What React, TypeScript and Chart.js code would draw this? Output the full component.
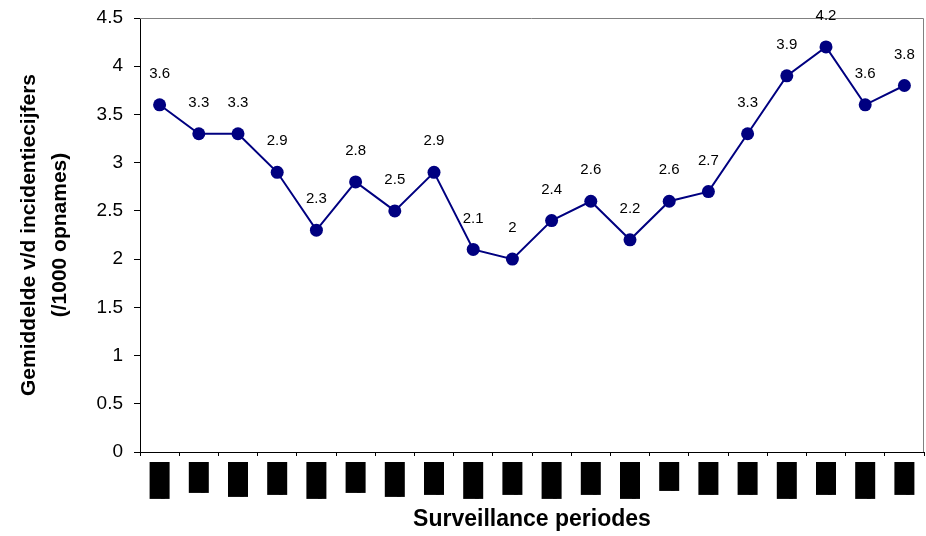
import React, { useEffect, useRef } from "react";
import { Chart, registerables } from "chart.js";

Chart.register(...registerables);

// Redacted period labels (black bars in the source)
const periodLabels: string[] = [
  "██████████████████",
  "███████████████",
  "█████████████████",
  "████████████████",
  "██████████████████",
  "███████████████",
  "█████████████████",
  "████████████████",
  "██████████████████",
  "████████████████",
  "██████████████████",
  "████████████████",
  "██████████████████",
  "██████████████",
  "████████████████",
  "████████████████",
  "██████████████████",
  "████████████████",
  "██████████████████",
  "████████████████",
];

const incidenceValues: number[] = [
  3.6, 3.3, 3.3, 2.9, 2.3, 2.8, 2.5, 2.9, 2.1, 2.0,
  2.4, 2.6, 2.2, 2.6, 2.7, 3.3, 3.9, 4.2, 3.6, 3.8,
];

const yAxisTitle: string[] = ["Gemiddelde v/d incidentiecijfers", "(/1000 opnames)"];
const xAxisTitle = "Surveillance periodes";

const NAVY = "#000080";
const FONT = "'Liberation Sans', Arial, sans-serif";

const frameBorder = {
  id: "frameBorder",
  beforeDatasetsDraw(chart: any) {
    const { ctx, chartArea } = chart;
    ctx.save();
    ctx.strokeStyle = "#808080";
    ctx.lineWidth = 1;
    ctx.beginPath();
    ctx.moveTo(chartArea.left, chartArea.top + 0.5);
    ctx.lineTo(chartArea.right - 0.5, chartArea.top + 0.5);
    ctx.lineTo(chartArea.right - 0.5, chartArea.bottom);
    ctx.stroke();
    ctx.restore();
  },
};

const valueLabels = {
  id: "valueLabels",
  afterDatasetsDraw(chart: any) {
    const { ctx } = chart;
    const meta = chart.getDatasetMeta(0);
    const data = chart.data.datasets[0].data as number[];
    ctx.save();
    ctx.font = `15px ${FONT}`;
    ctx.fillStyle = "#000";
    ctx.textAlign = "center";
    ctx.textBaseline = "middle";
    meta.data.forEach((pt: any, i: number) => {
      ctx.fillText(String(data[i]), pt.x, pt.y - 31);
    });
    ctx.restore();
  },
};

const zeroPadding = (scale: any) => {
  scale.paddingTop = 0;
  scale.paddingBottom = 0;
  scale.paddingLeft = 0;
  scale.paddingRight = 0;
};

export default function App() {
  const canvasRef = useRef<HTMLCanvasElement | null>(null);

  useEffect(() => {
    if (!canvasRef.current) return;
    const chart = new Chart(canvasRef.current, {
      type: "line",
      data: {
        labels: periodLabels,
        datasets: [
          {
            data: incidenceValues,
            borderColor: NAVY,
            backgroundColor: NAVY,
            borderWidth: 2,
            pointRadius: 6.5,
            pointBackgroundColor: NAVY,
            pointBorderWidth: 0,
            tension: 0,
            fill: false,
          },
        ],
      },
      options: {
        animation: false,
        responsive: false,
        maintainAspectRatio: false,
        layout: { autoPadding: false, padding: { top: 18, right: 2, left: 0, bottom: 0 } },
        plugins: {
          legend: { display: false },
          tooltip: { enabled: false },
          title: { display: false },
        },
        scales: {
          x: {
            type: "category",
            offset: true,
            grid: {
              offset: true,
              drawOnChartArea: false,
              drawTicks: true,
              tickLength: 4,
              color: "#000",
              tickColor: "#000",
            },
            border: { display: true, color: "#000", width: 1 },
            ticks: {
              autoSkip: false,
              minRotation: 90,
              maxRotation: 90,
              padding: 6.5,
              color: "#000",
              font: { family: "'DejaVu Sans Mono', monospace", size: 3.3225, lineHeight: "8px" },
              showLabelBackdrop: true,
              backdropColor: "#000",
              backdropPadding: { top: 10, bottom: 2, left: 0.5, right: 0.5 },
            } as any,
            title: {
              display: true,
              text: xAxisTitle,
              color: "#000",
              font: { family: FONT, size: 23, weight: "bold" },
              padding: { top: 0, bottom: 3 },
            },
            afterFit: (scale: any) => {
              scale.height = 84;
              zeroPadding(scale);
            },
          },
          y: {
            min: 0,
            max: 4.5,
            grid: {
              drawOnChartArea: false,
              drawTicks: true,
              tickLength: 6,
              color: "#000",
              tickColor: "#000",
            },
            border: { display: true, color: "#000", width: 1 },
            ticks: {
              stepSize: 0.5,
              padding: 11,
              color: "#000",
              font: { family: FONT, size: 19 },
              callback: (v: any) => String(v),
            },
            title: {
              display: true,
              text: yAxisTitle,
              color: "#000",
              font: { family: FONT, size: 21, weight: "bold", lineHeight: "31px" },
              padding: { top: 14, bottom: 0 },
            },
            afterFit: (scale: any) => {
              scale.width = 140;
              zeroPadding(scale);
            },
          },
        },
      },
      plugins: [frameBorder, valueLabels],
    });
    return () => chart.destroy();
  }, []);

  return (
    <div style={{ position: "fixed", left: 0, top: 0, width: 926, height: 536, background: "#fff" }}>
      <canvas ref={canvasRef} width={926} height={536} />
    </div>
  );
}
